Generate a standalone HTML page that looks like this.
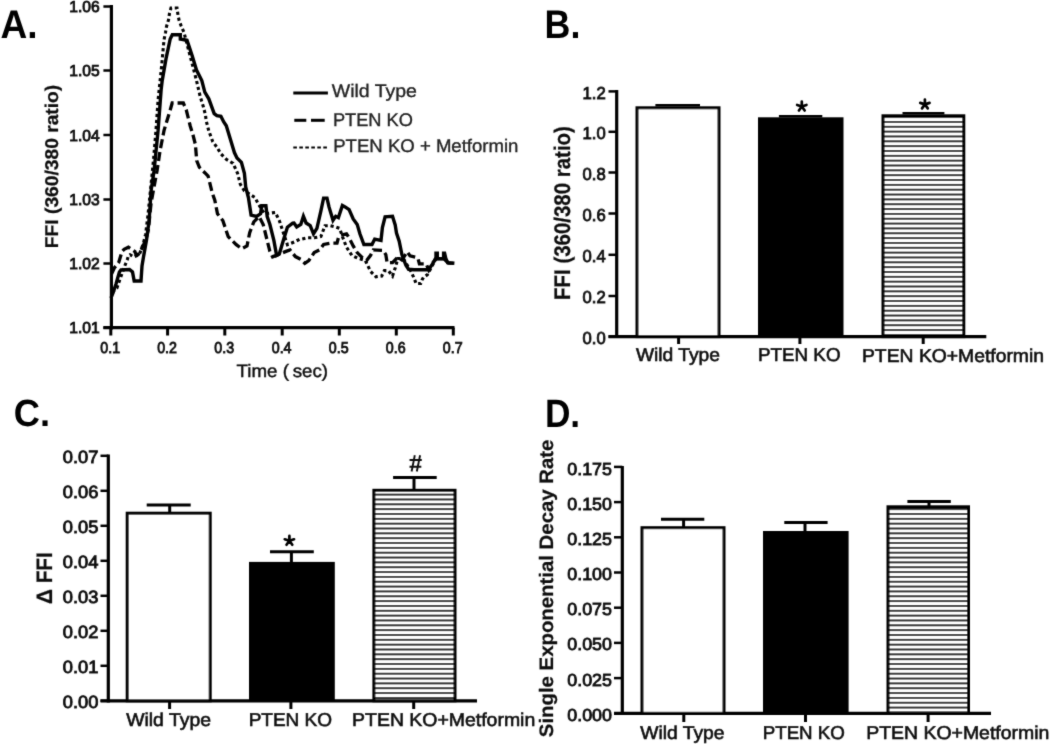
<!DOCTYPE html>
<html><head><meta charset="utf-8"><style>
html,body{margin:0;padding:0;background:#fff;}
svg{display:block;}
#wrap{width:1050px;height:744px;}
text{font-family:"Liberation Sans", sans-serif;text-rendering:geometricPrecision;}
</style></head><body>
<div id="wrap"><svg width="1050" height="744" viewBox="0 0 1050 744">
<defs>
<filter id="bl" x="0" y="0" width="1050" height="744" filterUnits="userSpaceOnUse"><feConvolveMatrix order="3" kernelMatrix="0.0200 0.0800 0.0200 0.0800 0.6000 0.0800 0.0200 0.0800 0.0200" divisor="1" edgeMode="none"/></filter>
<pattern id="stripes" patternUnits="userSpaceOnUse" x="0" y="0" width="10" height="4.84">
<rect width="10" height="4.84" fill="#fff"/><rect y="0" width="10" height="1.8" fill="#000"/>
</pattern>
</defs>
<rect width="1050" height="744" fill="#fff"/>
<g filter="url(#bl)">

<line x1="111.4" y1="5" x2="111.4" y2="329.4" stroke="#000" stroke-width="3.2" />
<line x1="103.4" y1="327.7" x2="454.5" y2="327.7" stroke="#000" stroke-width="3.2" />
<line x1="103.4" y1="6.5" x2="111.4" y2="6.5" stroke="#000" stroke-width="2.5" />
<line x1="103.4" y1="70.5" x2="111.4" y2="70.5" stroke="#000" stroke-width="2.5" />
<line x1="103.4" y1="135" x2="111.4" y2="135" stroke="#000" stroke-width="2.5" />
<line x1="103.4" y1="199.5" x2="111.4" y2="199.5" stroke="#000" stroke-width="2.5" />
<line x1="103.4" y1="263.5" x2="111.4" y2="263.5" stroke="#000" stroke-width="2.5" />
<line x1="103.4" y1="327.7" x2="111.4" y2="327.7" stroke="#000" stroke-width="2.5" />
<line x1="110.8" y1="327.7" x2="110.8" y2="335.5" stroke="#000" stroke-width="3" />
<line x1="167.6" y1="327.7" x2="167.6" y2="335.5" stroke="#000" stroke-width="3" />
<line x1="224.8" y1="327.7" x2="224.8" y2="335.5" stroke="#000" stroke-width="3" />
<line x1="282.2" y1="327.7" x2="282.2" y2="335.5" stroke="#000" stroke-width="3" />
<line x1="339.3" y1="327.7" x2="339.3" y2="335.5" stroke="#000" stroke-width="3" />
<line x1="396.3" y1="327.7" x2="396.3" y2="335.5" stroke="#000" stroke-width="3" />
<line x1="453.3" y1="327.7" x2="453.3" y2="335.5" stroke="#000" stroke-width="3" />
<line x1="293.3" y1="93" x2="327.9" y2="93" stroke="#000" stroke-width="3" />
<line x1="294.3" y1="120.3" x2="306.3" y2="120.3" stroke="#000" stroke-width="3" />
<line x1="311" y1="120.3" x2="324.7" y2="120.3" stroke="#000" stroke-width="3" />
<line x1="293.3" y1="147.4" x2="327.9" y2="147.4" stroke="#000" stroke-width="2" stroke-dasharray="3.6 2.4"/>
<polyline points="111.5,291 114,290.5 116.9,288 119.7,280 122.2,273 124.7,266 127.2,260 128.5,255.5 130,254.7 133.8,256.9 139.2,254.7 141.3,249.4 143.5,242.9 145.6,234.3 148,215 150.5,190 153.5,160 156,130 158.1,100 161.5,67.2 164,40 165.5,32.5 166.5,26.5 168.5,20 169.5,13.4 171,8 177,8 178,15 179.2,20.7 181,25.5 184,32.5 193.8,70 196.5,80.6 200.1,96.1 203.4,106.9 205.5,115 206.1,120.3 208.8,131 212.8,141.8 216.9,147.2 220.9,153.9 226.3,159.3 233,163.3 237.6,173.4 240.3,184.2 244.4,190.9 255.1,197.6 257.8,203 264.5,213.8 275.3,212.4 279.3,220.5 283.3,232.6 287.4,244.7 294.1,242 299.5,239.3 302.1,239.1 307.5,237.8 314.2,237.8 320.9,236.5 325,225.7 330.3,225.7 335.7,227 339.7,228.4 342.4,236.5 346.5,247.2 351.8,255.3 357.2,258 365.3,260.6 370.6,271.4 376,276.8 381.7,276 384.4,270.6 388.4,270.6 392.5,276 395.2,268 397.8,258.5 403.2,258.5 407.3,265.3 411.3,272 413.5,277 415.3,281.4 416,283.5 420.7,283.5 422,280 423.4,277.4 427.4,274.7 432,266 436,258.7 444,258.7 446.4,261 448.4,263.2 454.4,263.2" fill="none" stroke="#000" stroke-linejoin="miter" stroke-width="3.1" stroke-dasharray="3.2 2.8"/>
<polyline points="111.5,274 114.5,267.6 118.8,262.3 122,251.5 124.1,249.4 128.4,247.2 131.7,249.4 134.9,251.5 136,254.7 138.1,254.7 140.3,251.5 143.5,245 146.7,236.5 148.3,230 151.1,202.7 154.1,186.6 157.1,170.5 160.1,150.4 164.1,130.2 170.2,110 172.2,103 183.3,103 186.3,110 190.3,126.2 192.7,133.8 195.4,144.5 196.7,160.6 199.4,167.4 204.8,172.7 208.1,176.1 212.1,192.3 214.8,200.3 217.5,213.8 222.8,220.5 228.2,236.6 236.3,244.7 241.7,248.7 247,246 249.7,232.6 253.8,221.8 259.1,216.5 263.2,224.5 267.2,240.6 269.9,251.4 272.6,256.8 286,251.4 290,249.9 295.4,256.6 300.8,259.3 304.8,263.3 308.8,260.6 314.2,252.6 319.6,249.9 323.6,244.5 330.3,243.2 337,243.2 338.4,237.8 341.1,235.1 346.5,233.8 349.1,237.8 353.2,245.9 357.2,252.6 362.6,258 366.6,260.6 370.6,255.3 373.3,249.9 383.1,250.5 385.8,254.5 387.1,262.6 392.5,262.6 397.8,257.2 401.9,259.9 407.3,251.8 410,255.9 415.3,257.2 418,258.5 419.4,263.9 426.1,263.9 428.8,270 432,264 436,258.7 444,258.7 446.4,261 448.4,263.2 454.4,263.2" fill="none" stroke="#000" stroke-linejoin="miter" stroke-width="3.3" stroke-dasharray="9 4"/>
<polyline points="111,298 113.2,292.4 116,284 119.4,272 121,270 129.5,269.5 132.5,272 134.2,281 141,281 142,266 143.4,257.5 146.5,240 149.1,220.8 151.1,190.6 154.1,170.5 158.1,130.2 161.1,90 162.2,80.6 166.2,57.8 170.2,39 172.3,34.7 180.3,34.7 180.3,39 187,40.3 189.7,48.4 192.4,56.5 196.5,70 201.8,80.6 204.8,92.1 208.8,98.8 214.2,113.6 216.9,115.6 220.9,116.3 223.6,121.7 226.3,125.7 230.3,139.1 234.4,152.6 237,158 241.4,162.3 244.4,173.4 245.7,186.9 248.4,197.6 251.1,215.1 256.5,216.5 260.5,213.8 261.8,205.7 265.9,205.7 267.2,216.5 269.9,224.5 273.9,240.6 276.6,255.4 279.3,254 283.3,240.6 287.4,227.2 292.7,223.2 294,223 296.7,227 300.8,224.4 303.4,216.3 306.1,223 310.2,225.7 313.5,233.8 316.9,228.4 320.9,210.9 323.6,198.1 327,198.1 329,206.9 333,220.3 335.7,216.3 338.4,217.6 342.4,205.5 345.1,206.9 349.1,209.6 353.2,219 357.2,224.4 359.9,233.8 363.9,244.5 372,244.5 374.7,239.1 381,240.4 382.4,227.6 385.1,216.9 392.5,216.2 395.2,225 396.5,233 399.2,241.1 401.9,254.5 405.9,265.3 408.6,269.3 414,269.7 428.2,269.7 431.5,265.5 434.5,260.5 436,257.5 436,253.3 437.3,253.3 437.3,258.7 443.6,258.7 443.6,253.3 444.6,253.3 445.8,258.5 447.6,262.6 454.4,263.2" fill="none" stroke="#000" stroke-linejoin="miter" stroke-width="3.4"/>
<line x1="616.7" y1="90" x2="616.7" y2="338" stroke="#000" stroke-width="3.2" />
<line x1="608.5" y1="336.6" x2="986.3" y2="336.6" stroke="#000" stroke-width="3.2" />
<line x1="608.5" y1="91.4" x2="616.7" y2="91.4" stroke="#000" stroke-width="2.5" />
<line x1="608.5" y1="131.8" x2="616.7" y2="131.8" stroke="#000" stroke-width="2.5" />
<line x1="608.5" y1="172.5" x2="616.7" y2="172.5" stroke="#000" stroke-width="2.5" />
<line x1="608.5" y1="213.5" x2="616.7" y2="213.5" stroke="#000" stroke-width="2.5" />
<line x1="608.5" y1="254.8" x2="616.7" y2="254.8" stroke="#000" stroke-width="2.5" />
<line x1="608.5" y1="296" x2="616.7" y2="296" stroke="#000" stroke-width="2.5" />
<line x1="608.5" y1="336.6" x2="616.7" y2="336.6" stroke="#000" stroke-width="2.5" />
<rect x="637.0" y="107.8" width="82.0" height="228.8" fill="#fff" stroke="#000" stroke-width="3"/>
<rect x="758" y="117.3" width="85.5" height="219.3" fill="#000"/>
<rect x="883.0" y="115.8" width="80.79999999999995" height="220.8" fill="url(#stripes)" stroke="#000" stroke-width="3"/>
<line x1="655.4" y1="105.2" x2="700" y2="105.2" stroke="#000" stroke-width="2.5" />
<line x1="778.9" y1="116.2" x2="822.3" y2="116.2" stroke="#000" stroke-width="2.5" />
<line x1="902.5" y1="113.2" x2="944.4" y2="113.2" stroke="#000" stroke-width="2.5" />
<line x1="678.6" y1="337" x2="678.6" y2="344" stroke="#000" stroke-width="3" />
<line x1="799.9" y1="337" x2="799.9" y2="344" stroke="#000" stroke-width="3" />
<line x1="923.2" y1="337" x2="923.2" y2="344" stroke="#000" stroke-width="3" />
<line x1="108.3" y1="454.5" x2="108.3" y2="702.5" stroke="#000" stroke-width="3.2" />
<line x1="100.5" y1="700.8" x2="477" y2="700.8" stroke="#000" stroke-width="3.2" />
<line x1="100.5" y1="700.8" x2="108.3" y2="700.8" stroke="#000" stroke-width="2.5" />
<line x1="100.5" y1="665.8" x2="108.3" y2="665.8" stroke="#000" stroke-width="2.5" />
<line x1="100.5" y1="630.8" x2="108.3" y2="630.8" stroke="#000" stroke-width="2.5" />
<line x1="100.5" y1="595.8" x2="108.3" y2="595.8" stroke="#000" stroke-width="2.5" />
<line x1="100.5" y1="560.8" x2="108.3" y2="560.8" stroke="#000" stroke-width="2.5" />
<line x1="100.5" y1="525.8" x2="108.3" y2="525.8" stroke="#000" stroke-width="2.5" />
<line x1="100.5" y1="490.79999999999995" x2="108.3" y2="490.79999999999995" stroke="#000" stroke-width="2.5" />
<line x1="100.5" y1="455.79999999999995" x2="108.3" y2="455.79999999999995" stroke="#000" stroke-width="2.5" />
<rect x="127.2" y="513.2" width="82.99999999999999" height="187.59999999999997" fill="#fff" stroke="#000" stroke-width="3"/>
<rect x="249" y="561.9" width="85.80000000000001" height="138.89999999999998" fill="#000"/>
<rect x="373.9" y="490.3" width="81.10000000000002" height="210.49999999999994" fill="url(#stripes)" stroke="#000" stroke-width="3"/>
<line x1="169.7" y1="505" x2="169.7" y2="512.7" stroke="#000" stroke-width="3" />
<line x1="146.7" y1="505" x2="190.7" y2="505" stroke="#000" stroke-width="3" />
<line x1="291.4" y1="551.8" x2="291.4" y2="562.9" stroke="#000" stroke-width="3" />
<line x1="270" y1="551.8" x2="313.8" y2="551.8" stroke="#000" stroke-width="3" />
<line x1="414" y1="477.4" x2="414" y2="489.8" stroke="#000" stroke-width="3" />
<line x1="393.1" y1="477.4" x2="436.7" y2="477.4" stroke="#000" stroke-width="3" />
<line x1="169.6" y1="702" x2="169.6" y2="709" stroke="#000" stroke-width="3" />
<line x1="290.9" y1="702" x2="290.9" y2="709" stroke="#000" stroke-width="3" />
<line x1="413.7" y1="702" x2="413.7" y2="709" stroke="#000" stroke-width="3" />
<line x1="622.3" y1="466" x2="622.3" y2="715" stroke="#000" stroke-width="3.2" />
<line x1="614" y1="713.3" x2="991" y2="713.3" stroke="#000" stroke-width="3.2" />
<line x1="614" y1="713.3" x2="622.3" y2="713.3" stroke="#000" stroke-width="2.5" />
<line x1="614" y1="678.0999999999999" x2="622.3" y2="678.0999999999999" stroke="#000" stroke-width="2.5" />
<line x1="614" y1="642.9" x2="622.3" y2="642.9" stroke="#000" stroke-width="2.5" />
<line x1="614" y1="607.6999999999999" x2="622.3" y2="607.6999999999999" stroke="#000" stroke-width="2.5" />
<line x1="614" y1="572.5" x2="622.3" y2="572.5" stroke="#000" stroke-width="2.5" />
<line x1="614" y1="537.3" x2="622.3" y2="537.3" stroke="#000" stroke-width="2.5" />
<line x1="614" y1="502.0999999999999" x2="622.3" y2="502.0999999999999" stroke="#000" stroke-width="2.5" />
<line x1="614" y1="466.8999999999999" x2="622.3" y2="466.8999999999999" stroke="#000" stroke-width="2.5" />
<rect x="642.0" y="527.7" width="82.0" height="185.5999999999999" fill="#fff" stroke="#000" stroke-width="3"/>
<rect x="763" y="531" width="85.60000000000002" height="182.29999999999995" fill="#000"/>
<rect x="888.0" y="506.8" width="80.5" height="206.49999999999994" fill="url(#stripes)" stroke="#000" stroke-width="3"/>
<line x1="683.6" y1="519.3" x2="683.6" y2="527.2" stroke="#000" stroke-width="3" />
<line x1="661" y1="519.3" x2="704.3" y2="519.3" stroke="#000" stroke-width="3" />
<line x1="805" y1="522.4" x2="805" y2="532" stroke="#000" stroke-width="3" />
<line x1="784.3" y1="522.4" x2="827.6" y2="522.4" stroke="#000" stroke-width="3" />
<line x1="929" y1="501.4" x2="929" y2="506.3" stroke="#000" stroke-width="3" />
<line x1="907.4" y1="501.4" x2="950.8" y2="501.4" stroke="#000" stroke-width="3" />
<line x1="683.8" y1="715" x2="683.8" y2="722" stroke="#000" stroke-width="3" />
<line x1="805.5" y1="715" x2="805.5" y2="722" stroke="#000" stroke-width="3" />
<line x1="928.1" y1="715" x2="928.1" y2="722" stroke="#000" stroke-width="3" />
<path d="M801.8,106.5L801.80,101.60M801.8,106.5L797.14,104.99M801.8,106.5L806.46,104.99M801.8,106.5L804.68,110.46M801.8,106.5L798.92,110.46" stroke="#000" stroke-width="2.7" stroke-linecap="round" fill="none"/>
<path d="M924.9,104.4L924.90,99.50M924.9,104.4L920.24,102.89M924.9,104.4L929.56,102.89M924.9,104.4L927.78,108.36M924.9,104.4L922.02,108.36" stroke="#000" stroke-width="2.7" stroke-linecap="round" fill="none"/>
<path d="M289.4,540.8L289.40,535.90M289.4,540.8L284.74,539.29M289.4,540.8L294.06,539.29M289.4,540.8L292.28,544.76M289.4,540.8L286.52,544.76" stroke="#000" stroke-width="2.7" stroke-linecap="round" fill="none"/>
<path d="M409.5,460H421.8M409.5,466.8H421.3M414.8,455.3L411.6,471.5M420.1,455.3L416.8,471.5" stroke="#111" stroke-width="1.9" fill="none"/>
<text x="0.39" y="37.93" font-size="39.83" font-weight="bold" fill="#000" textLength="37.09" lengthAdjust="spacingAndGlyphs">A.</text>
<text x="544.56" y="37.93" font-size="39.83" font-weight="bold" fill="#000" textLength="35.85" lengthAdjust="spacingAndGlyphs">B.</text>
<text x="13.87" y="426.46" font-size="37.81" font-weight="bold" fill="#000" textLength="36.26" lengthAdjust="spacingAndGlyphs">C.</text>
<text x="544.89" y="427.05" font-size="39.46" font-weight="bold" fill="#000" textLength="35.3" lengthAdjust="spacingAndGlyphs">D.</text>
<text x="69.25" y="12.2" font-size="15.92" font-weight="normal" fill="#111" textLength="30.42" lengthAdjust="spacingAndGlyphs" stroke="#111" stroke-width="0.85">1.06</text>
<text x="69.25" y="76.2" font-size="15.92" font-weight="normal" fill="#111" textLength="30.42" lengthAdjust="spacingAndGlyphs" stroke="#111" stroke-width="0.85">1.05</text>
<text x="69.25" y="140.7" font-size="15.92" font-weight="normal" fill="#111" textLength="30.42" lengthAdjust="spacingAndGlyphs" stroke="#111" stroke-width="0.85">1.04</text>
<text x="69.25" y="205.2" font-size="15.92" font-weight="normal" fill="#111" textLength="30.42" lengthAdjust="spacingAndGlyphs" stroke="#111" stroke-width="0.85">1.03</text>
<text x="69.25" y="269.2" font-size="15.92" font-weight="normal" fill="#111" textLength="30.42" lengthAdjust="spacingAndGlyphs" stroke="#111" stroke-width="0.85">1.02</text>
<text x="69.25" y="333.4" font-size="15.92" font-weight="normal" fill="#111" textLength="30.42" lengthAdjust="spacingAndGlyphs" stroke="#111" stroke-width="0.85">1.01</text>
<text x="100.35" y="353.15" font-size="15.69" font-weight="normal" fill="#111" textLength="19.78" lengthAdjust="spacingAndGlyphs" stroke="#111" stroke-width="0.85">0.1</text>
<text x="157.15" y="353.15" font-size="15.69" font-weight="normal" fill="#111" textLength="19.78" lengthAdjust="spacingAndGlyphs" stroke="#111" stroke-width="0.85">0.2</text>
<text x="214.35" y="353.15" font-size="15.69" font-weight="normal" fill="#111" textLength="19.78" lengthAdjust="spacingAndGlyphs" stroke="#111" stroke-width="0.85">0.3</text>
<text x="271.75" y="353.15" font-size="15.69" font-weight="normal" fill="#111" textLength="19.78" lengthAdjust="spacingAndGlyphs" stroke="#111" stroke-width="0.85">0.4</text>
<text x="328.85" y="353.15" font-size="15.69" font-weight="normal" fill="#111" textLength="19.78" lengthAdjust="spacingAndGlyphs" stroke="#111" stroke-width="0.85">0.5</text>
<text x="385.85" y="353.15" font-size="15.69" font-weight="normal" fill="#111" textLength="19.78" lengthAdjust="spacingAndGlyphs" stroke="#111" stroke-width="0.85">0.6</text>
<text x="442.85" y="353.15" font-size="15.69" font-weight="normal" fill="#111" textLength="19.78" lengthAdjust="spacingAndGlyphs" stroke="#111" stroke-width="0.85">0.7</text>
<text x="236.51" y="376.85" font-size="17.82" font-weight="normal" fill="#111" textLength="91.56" lengthAdjust="spacingAndGlyphs" stroke="#111" stroke-width="0.45">Time ( sec)</text>
<text x="58.35" y="248.17" font-size="18.5" font-weight="bold" fill="#111" textLength="163.42" lengthAdjust="spacingAndGlyphs" stroke="#111" stroke-width="0.25" transform="rotate(-90 58.35 248.17)">FFI (360/380 ratio)</text>
<text x="331.81" y="97.47" font-size="18.2" font-weight="normal" fill="#222" textLength="85.13" lengthAdjust="spacingAndGlyphs" stroke="#222" stroke-width="0.35">Wild Type</text>
<text x="332.97" y="125.62" font-size="18.2" font-weight="normal" fill="#222" textLength="79.9" lengthAdjust="spacingAndGlyphs" stroke="#222" stroke-width="0.35">PTEN KO</text>
<text x="333.24" y="152.38" font-size="18.2" font-weight="normal" fill="#222" textLength="185.19" lengthAdjust="spacingAndGlyphs" stroke="#222" stroke-width="0.35">PTEN KO + Metformin</text>
<text x="582.5" y="98.53" font-size="17.38" font-weight="normal" fill="#111" textLength="23.16" lengthAdjust="spacingAndGlyphs" stroke="#111" stroke-width="0.85">1.2</text>
<text x="582.5" y="138.93" font-size="17.38" font-weight="normal" fill="#111" textLength="23.16" lengthAdjust="spacingAndGlyphs" stroke="#111" stroke-width="0.85">1.0</text>
<text x="582.5" y="179.63" font-size="17.38" font-weight="normal" fill="#111" textLength="23.16" lengthAdjust="spacingAndGlyphs" stroke="#111" stroke-width="0.85">0.8</text>
<text x="582.5" y="220.63" font-size="17.38" font-weight="normal" fill="#111" textLength="23.16" lengthAdjust="spacingAndGlyphs" stroke="#111" stroke-width="0.85">0.6</text>
<text x="582.5" y="262.13" font-size="17.38" font-weight="normal" fill="#111" textLength="23.16" lengthAdjust="spacingAndGlyphs" stroke="#111" stroke-width="0.85">0.4</text>
<text x="582.5" y="303.13" font-size="17.38" font-weight="normal" fill="#111" textLength="23.16" lengthAdjust="spacingAndGlyphs" stroke="#111" stroke-width="0.85">0.2</text>
<text x="582.5" y="343.73" font-size="17.38" font-weight="normal" fill="#111" textLength="23.16" lengthAdjust="spacingAndGlyphs" stroke="#111" stroke-width="0.85">0.0</text>
<text x="569.94" y="299.94" font-size="22.6" font-weight="bold" fill="#111" textLength="173.8" lengthAdjust="spacingAndGlyphs" stroke="#111" stroke-width="0.25" transform="rotate(-90 569.94 299.94)">FFI (360/380 ratio)</text>
<text x="635.93" y="360.97" font-size="18.6" font-weight="normal" fill="#111" textLength="84.01" lengthAdjust="spacingAndGlyphs" stroke="#111" stroke-width="0.6">Wild Type</text>
<text x="758.01" y="361.39" font-size="18.6" font-weight="normal" fill="#111" textLength="82.54" lengthAdjust="spacingAndGlyphs" stroke="#111" stroke-width="0.6">PTEN KO</text>
<text x="861.99" y="361.78" font-size="18.6" font-weight="normal" fill="#111" textLength="182.0" lengthAdjust="spacingAndGlyphs" stroke="#111" stroke-width="0.6">PTEN KO+Metformin</text>
<text x="62.88" y="707.99" font-size="17.74" font-weight="normal" fill="#111" textLength="35.56" lengthAdjust="spacingAndGlyphs" stroke="#111" stroke-width="0.85">0.00</text>
<text x="62.88" y="672.94" font-size="17.74" font-weight="normal" fill="#111" textLength="35.56" lengthAdjust="spacingAndGlyphs" stroke="#111" stroke-width="0.85">0.01</text>
<text x="62.88" y="637.89" font-size="17.74" font-weight="normal" fill="#111" textLength="35.56" lengthAdjust="spacingAndGlyphs" stroke="#111" stroke-width="0.85">0.02</text>
<text x="62.88" y="602.84" font-size="17.74" font-weight="normal" fill="#111" textLength="35.56" lengthAdjust="spacingAndGlyphs" stroke="#111" stroke-width="0.85">0.03</text>
<text x="62.88" y="567.79" font-size="17.74" font-weight="normal" fill="#111" textLength="35.56" lengthAdjust="spacingAndGlyphs" stroke="#111" stroke-width="0.85">0.04</text>
<text x="62.88" y="532.74" font-size="17.74" font-weight="normal" fill="#111" textLength="35.56" lengthAdjust="spacingAndGlyphs" stroke="#111" stroke-width="0.85">0.05</text>
<text x="62.88" y="497.69" font-size="17.74" font-weight="normal" fill="#111" textLength="35.56" lengthAdjust="spacingAndGlyphs" stroke="#111" stroke-width="0.85">0.06</text>
<text x="62.88" y="462.64" font-size="17.74" font-weight="normal" fill="#111" textLength="35.56" lengthAdjust="spacingAndGlyphs" stroke="#111" stroke-width="0.85">0.07</text>
<text x="52.45" y="603.99" font-size="22.36" font-weight="bold" fill="#111" textLength="51.67" lengthAdjust="spacingAndGlyphs" stroke="#111" stroke-width="0.25" transform="rotate(-90 52.45 603.99)">Δ FFI</text>
<text x="126.23" y="725.77" font-size="18.6" font-weight="normal" fill="#111" textLength="84.74" lengthAdjust="spacingAndGlyphs" stroke="#111" stroke-width="0.6">Wild Type</text>
<text x="248.71" y="725.88" font-size="18.6" font-weight="normal" fill="#111" textLength="83.31" lengthAdjust="spacingAndGlyphs" stroke="#111" stroke-width="0.6">PTEN KO</text>
<text x="352.09" y="726.18" font-size="18.6" font-weight="normal" fill="#111" textLength="183.15" lengthAdjust="spacingAndGlyphs" stroke="#111" stroke-width="0.6">PTEN KO+Metformin</text>
<text x="567.28" y="720.73" font-size="17.47" font-weight="normal" fill="#111" textLength="44.69" lengthAdjust="spacingAndGlyphs" stroke="#111" stroke-width="0.85">0.000</text>
<text x="567.28" y="685.58" font-size="17.47" font-weight="normal" fill="#111" textLength="44.69" lengthAdjust="spacingAndGlyphs" stroke="#111" stroke-width="0.85">0.025</text>
<text x="567.28" y="650.43" font-size="17.47" font-weight="normal" fill="#111" textLength="44.69" lengthAdjust="spacingAndGlyphs" stroke="#111" stroke-width="0.85">0.050</text>
<text x="567.28" y="615.28" font-size="17.47" font-weight="normal" fill="#111" textLength="44.69" lengthAdjust="spacingAndGlyphs" stroke="#111" stroke-width="0.85">0.075</text>
<text x="567.28" y="580.13" font-size="17.47" font-weight="normal" fill="#111" textLength="44.69" lengthAdjust="spacingAndGlyphs" stroke="#111" stroke-width="0.85">0.100</text>
<text x="567.28" y="544.98" font-size="17.47" font-weight="normal" fill="#111" textLength="44.69" lengthAdjust="spacingAndGlyphs" stroke="#111" stroke-width="0.85">0.125</text>
<text x="567.28" y="509.83" font-size="17.47" font-weight="normal" fill="#111" textLength="44.69" lengthAdjust="spacingAndGlyphs" stroke="#111" stroke-width="0.85">0.150</text>
<text x="567.28" y="474.68" font-size="17.47" font-weight="normal" fill="#111" textLength="44.69" lengthAdjust="spacingAndGlyphs" stroke="#111" stroke-width="0.85">0.175</text>
<text x="553.5" y="737.19" font-size="19.44" font-weight="bold" fill="#111" textLength="297.58" lengthAdjust="spacingAndGlyphs" stroke="#111" stroke-width="0.25" transform="rotate(-90 553.5 737.19)">Single Exponential Decay Rate</text>
<text x="640.23" y="738.97" font-size="18.6" font-weight="normal" fill="#111" textLength="84.35" lengthAdjust="spacingAndGlyphs" stroke="#111" stroke-width="0.6">Wild Type</text>
<text x="762.71" y="738.68" font-size="18.6" font-weight="normal" fill="#111" textLength="82.2" lengthAdjust="spacingAndGlyphs" stroke="#111" stroke-width="0.6">PTEN KO</text>
<text x="866.19" y="738.98" font-size="18.6" font-weight="normal" fill="#111" textLength="183.18" lengthAdjust="spacingAndGlyphs" stroke="#111" stroke-width="0.6">PTEN KO+Metformin</text>
</g></svg></div>
</body></html>
